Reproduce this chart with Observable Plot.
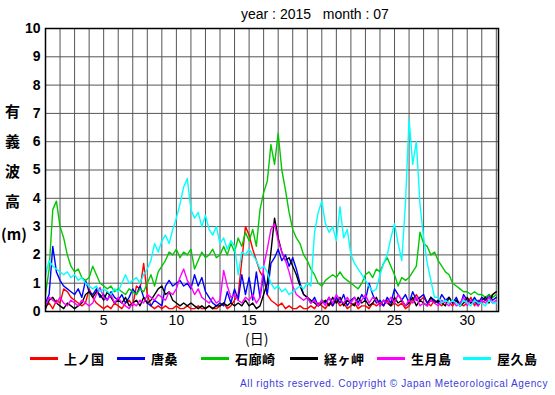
<!DOCTYPE html>
<html><head><meta charset="utf-8">
<script src="https://cdn.jsdelivr.net/npm/d3@7"></script>
<script src="https://cdn.jsdelivr.net/npm/@observablehq/plot@0.6"></script>
<style>
body{margin:0;background:#fff;}
#wrap{position:relative;width:555px;height:395px;overflow:hidden;font-family:"Liberation Sans",Arial,sans-serif;background:#fff;}
.abs{position:absolute;white-space:nowrap;line-height:1;}
.cjk{font-family:"Noto Sans CJK JP",sans-serif;font-weight:bold;}
g[aria-label="y-axis tick label"], g[aria-label="y-axis tick label"] text{font-weight:bold;}
</style></head><body>
<div id="wrap">
  <div id="chart" class="abs" style="left:0;top:0"></div>
  <div class="abs" style="left:241px;top:7px;font-size:14px;white-space:pre;">year : 2015   month : 07</div>
  <div id="ytitle"></div>
  <div class="abs cjk" style="left:245px;top:331px;font-size:14px;font-weight:normal;">(日)</div>
  <div id="legend"></div>
  <div class="abs" style="right:7px;top:379px;font-size:10px;letter-spacing:0.6px;color:#3b3bd9;">All rights reserved. Copyright © Japan Meteorological Agency</div>
</div>
<script>
// station names & colours
const stations = ["上ノ国","唐桑","石廊崎","経ヶ岬","生月島","屋久島"];
const colors = ["#ff0000","#0000ff","#00c800","#000000","#ff00ff","#00ffff"];
// tick labels
const xTicks = [5,10,15,20,25,30];
const yTicks = [0,1,2,3,4,5,6,7,8,9,10];
const dayGrid = [1,2,3,4,5,6,7,8,9,10,11,12,13,14,15,16,17,18,19,20,21,22,23,24,25,26,27,28,29,30,31,32];
const yTitle = ["有","義","波","高","(m)"];
// samples every 6 hours from day 1 00h to day 32 00h
const samplesPerDay = 4;

const kaminokuni = [
0.2,0.3,0.1,0.4, 0.3,0.8,0.7,0.5, 0.4,0.3,0.2,0.3, 0.8,0.5,0.3,0.2, 0.1,0.2,0.1,0.3,
0.2,0.1,0.3,0.4, 0.2,0.9,0.8,1.7, 0.6,0.2,0.1,0.2, 0.1,0.2,0.1,0.1, 0.2,0.1,0.1,0.2,
0.1,0.1,0.2,0.1, 0.1,0.2,0.1,0.1, 0.2,0.3,0.1,0.2, 0.4,0.6,1.8,3.0, 2.7,2.2,1.8,1.4,
1.2,0.6,0.4,0.3, 0.2,0.3,0.1,0.2, 0.1,0.1,0.2,0.1, 0.1,0.2,0.1,0.3, 0.2,0.1,0.3,0.2,
0.4,0.2,0.3,0.1, 0.2,0.3,0.1,0.2, 0.2,0.1,0.3,0.2, 0.3,0.2,0.4,0.2, 0.3,0.2,0.3,0.1,
0.2,0.4,0.6,0.4, 0.5,0.3,0.2,0.4, 0.3,0.2,0.4,0.3, 0.2,0.4,0.3,0.2, 0.3,0.5,0.2,0.4,
0.3,0.4,0.5,0.6, 0.7];

const karakuwa = [
0.3,0.6,2.3,1.4, 1.1,0.9,0.8,0.7, 0.6,0.8,0.5,1.1, 0.7,0.6,0.8,0.5, 0.6,0.4,0.7,0.5,
0.4,0.6,0.3,0.5, 0.8,0.6,0.9,0.5, 0.3,0.2,0.4,0.3, 0.2,0.9,1.1,0.9, 1.0,1.1,0.9,1.0,
0.8,1.3,0.9,1.2, 0.7,0.5,0.3,0.2, 0.3,0.2,0.7,0.3, 0.8,0.4,1.3,0.6, 1.2,0.4,1.4,0.5,
1.3,0.6,1.7,1.9, 2.2,1.8,2.0,1.6, 1.9,1.5,1.0,0.6, 0.5,0.3,0.5,0.2, 0.4,0.3,0.5,0.2,
0.5,0.3,0.6,0.2, 0.4,0.5,0.3,0.6, 0.4,1.0,0.6,0.3, 0.4,0.2,0.5,0.3, 0.8,0.6,0.4,0.6,
0.3,0.7,0.4,0.5, 0.6,0.3,0.5,0.4, 0.3,0.6,0.4,0.5, 0.3,0.5,0.2,0.6, 0.4,0.3,0.5,0.3,
0.5,0.4,0.6,0.4, 0.5];

const irozaki = [
0.6,1.5,3.6,3.9, 3.0,2.6,2.0,1.6, 1.4,1.5,1.2,1.1, 1.2,1.6,1.3,1.0, 0.9,0.8,0.9,0.7,
0.8,0.7,0.6,0.8, 0.7,0.6,0.8,0.7, 1.0,1.3,0.9,1.4, 1.6,1.8,2.1,2.0, 2.2,1.9,2.1,2.0,
2.2,1.5,1.8,2.1, 1.9,2.0,2.2,1.9, 2.0,2.3,2.0,2.4, 2.1,2.6,2.3,2.8, 2.5,2.9,2.3,3.6,
4.2,4.6,5.9,5.2, 6.3,5.0,4.3,3.5, 2.9,2.6,2.4,2.0, 1.8,1.5,1.3,1.0, 0.9,1.1,1.2,1.3,
1.2,1.4,1.2,1.1, 1.0,0.9,0.8,1.0, 1.3,1.4,1.2,1.5, 1.4,1.7,1.9,1.6, 1.3,0.9,1.2,1.1,
1.2,1.4,1.6,2.8, 2.4,2.3,2.0,2.1, 1.8,1.6,1.4,1.3, 1.0,0.9,0.8,0.7, 0.7,0.6,0.7,0.6,
0.6,0.5,0.6,0.5, 0.6];

const kyogamisaki = [
0.1,0.4,0.5,0.3, 0.2,0.1,0.3,0.2, 0.1,0.2,0.3,0.6, 0.7,0.5,0.7,0.6, 0.4,0.7,0.5,0.3,
0.4,0.3,0.5,0.2, 0.3,0.4,0.2,0.5, 0.3,0.4,0.6,0.8, 0.9,0.6,0.7,0.4, 0.3,0.2,0.3,0.2,
0.3,0.2,0.1,0.2, 0.1,0.2,0.1,0.2, 0.2,0.3,0.2,0.3, 0.2,0.3,0.2,0.4, 0.2,0.3,0.1,0.2,
0.6,1.0,2.1,3.3, 2.6,2.1,1.8,1.9, 1.6,1.3,0.9,0.6, 0.5,0.4,0.3,0.2, 0.3,0.4,0.2,0.5,
0.3,0.5,0.2,0.4, 0.3,0.2,0.5,0.3, 0.4,0.2,0.3,0.5, 0.2,0.4,0.3,0.2, 0.5,0.3,0.4,0.2,
0.3,0.5,0.2,0.4, 0.3,0.2,0.5,0.3, 0.4,0.3,0.2,0.5, 0.3,0.4,0.2,0.3, 0.5,0.3,0.4,0.2,
0.4,0.5,0.3,0.6, 0.7];

const ikitsukishima = [
0.2,0.5,0.4,0.3, 0.5,0.3,0.2,0.4, 0.3,0.2,0.4,0.3, 0.2,0.3,0.6,0.85, 0.5,0.4,0.6,0.3,
0.5,0.3,0.2,0.1, 0.3,0.2,0.4,0.3, 0.6,0.5,0.4,0.6, 0.5,0.4,0.7,0.6, 0.8,1.2,1.5,1.1,
0.9,0.6,0.8,0.5, 0.4,0.3,0.5,0.3, 0.4,1.45,0.9,0.5, 0.6,0.4,0.3,0.5, 0.4,0.6,0.3,0.5,
1.6,2.2,2.9,3.1, 2.5,2.1,1.8,1.4, 0.9,0.6,0.5,0.4, 0.5,0.3,0.4,0.2, 0.4,0.2,0.5,0.3,
0.6,0.4,0.3,0.5, 0.3,0.5,0.2,0.4, 0.6,0.3,0.5,0.4, 0.2,0.4,0.3,0.5, 0.3,0.6,0.4,0.2,
0.4,0.3,0.5,0.2, 0.3,0.2,0.4,0.3, 0.2,0.4,0.3,0.2, 0.4,0.2,0.3,0.5, 0.2,0.4,0.3,0.2,
0.4,0.3,0.5,0.3, 0.4];

const yakushima = [
1.3,1.8,1.6,1.5, 1.4,1.3,1.4,1.2, 1.3,1.1,1.2,1.0, 0.9,0.8,0.9,0.7, 0.8,0.7,0.6,0.8,
0.7,1.0,1.3,1.0, 1.1,1.2,1.0,1.3, 1.5,1.8,2.4,2.1, 2.5,2.7,2.4,2.9, 3.3,3.8,4.4,4.7,
3.6,3.3,3.5,3.0, 3.4,2.9,2.7,3.0, 2.4,2.6,2.2,2.5, 2.3,1.3,2.1,2.0, 2.2,2.0,1.8,1.5,
1.6,1.4,1.0,0.8, 0.9,0.7,0.8,0.6, 0.7,0.8,0.9,0.8, 1.0,0.9,2.8,3.5, 3.9,3.1,2.8,3.0,
2.5,3.7,2.6,2.9, 2.0,1.7,1.5,1.3, 1.1,0.9,0.7,0.8, 1.3,1.7,2.0,2.6, 3.1,2.4,1.8,3.8,
6.8,5.2,6.0,3.8, 2.6,1.7,1.1,0.5, 0.5,0.3,0.4,0.3, 0.4,0.3,0.2,0.4, 0.3,0.2,0.4,0.3,
0.3,0.2,0.4,0.3, 0.3];

const seriesValues = [kaminokuni, karakuwa, irozaki, kyogamisaki, ikitsukishima, yakushima];

const rows = seriesValues.flatMap((vals, k) =>
  vals.map((h, i) => ({station: stations[k], t: 1 + i / samplesPerDay, h})));

const chart = Plot.plot({
  width: 555, height: 345,
  marginTop: 28, marginLeft: 45, marginRight: 57, marginBottom: 34,
  style: {fontFamily: "'Liberation Sans', Arial, sans-serif", background: "transparent"},
  x: {domain: [1, 32.15]},
  y: {domain: [0, 10]},
  color: {domain: stations, range: colors},
  marks: [
    Plot.gridX(dayGrid, {stroke: "#555", strokeOpacity: 1, strokeWidth: 1}),
    Plot.gridY(yTicks, {stroke: "#555", strokeOpacity: 1, strokeWidth: 1}),
    Plot.line(rows, {x: "t", y: "h", z: "station", stroke: "station", strokeWidth: 1.4}),
    Plot.frame({stroke: "#000", strokeWidth: 1.5}),
    Plot.axisX(xTicks, {tickSize: 0, tickPadding: 4, fontSize: 14, label: null}),
    Plot.axisY(yTicks, {tickSize: 0, tickPadding: 5, fontSize: 14, fontWeight: "bold", label: null})
  ]
});
document.getElementById("chart").appendChild(chart);

// y title (stacked characters)
const yt = document.getElementById("ytitle");
const ytTops = [103, 133, 163, 193, 226];
yTitle.forEach((c, i) => {
  const d = document.createElement("div");
  d.className = "abs cjk";
  d.style.cssText = `left:${i === 4 ? 1 : 5}px;top:${ytTops[i]}px;font-size:15px;`;
  d.textContent = c;
  yt.appendChild(d);
});

// legend
const lg = document.getElementById("legend");
const legLeft = [30, 117, 201, 290, 377, 463];
stations.forEach((s, i) => {
  const line = document.createElement("div");
  line.className = "abs";
  line.style.cssText = `left:${legLeft[i]}px;top:357px;width:28px;height:0;border-top:3px solid ${colors[i]};`;
  lg.appendChild(line);
  const t = document.createElement("div");
  t.className = "abs cjk";
  t.style.cssText = `left:${legLeft[i] + 34}px;top:352px;font-size:13px;letter-spacing:0.5px;`;
  t.textContent = s;
  lg.appendChild(t);
});
</script>
</body></html>
